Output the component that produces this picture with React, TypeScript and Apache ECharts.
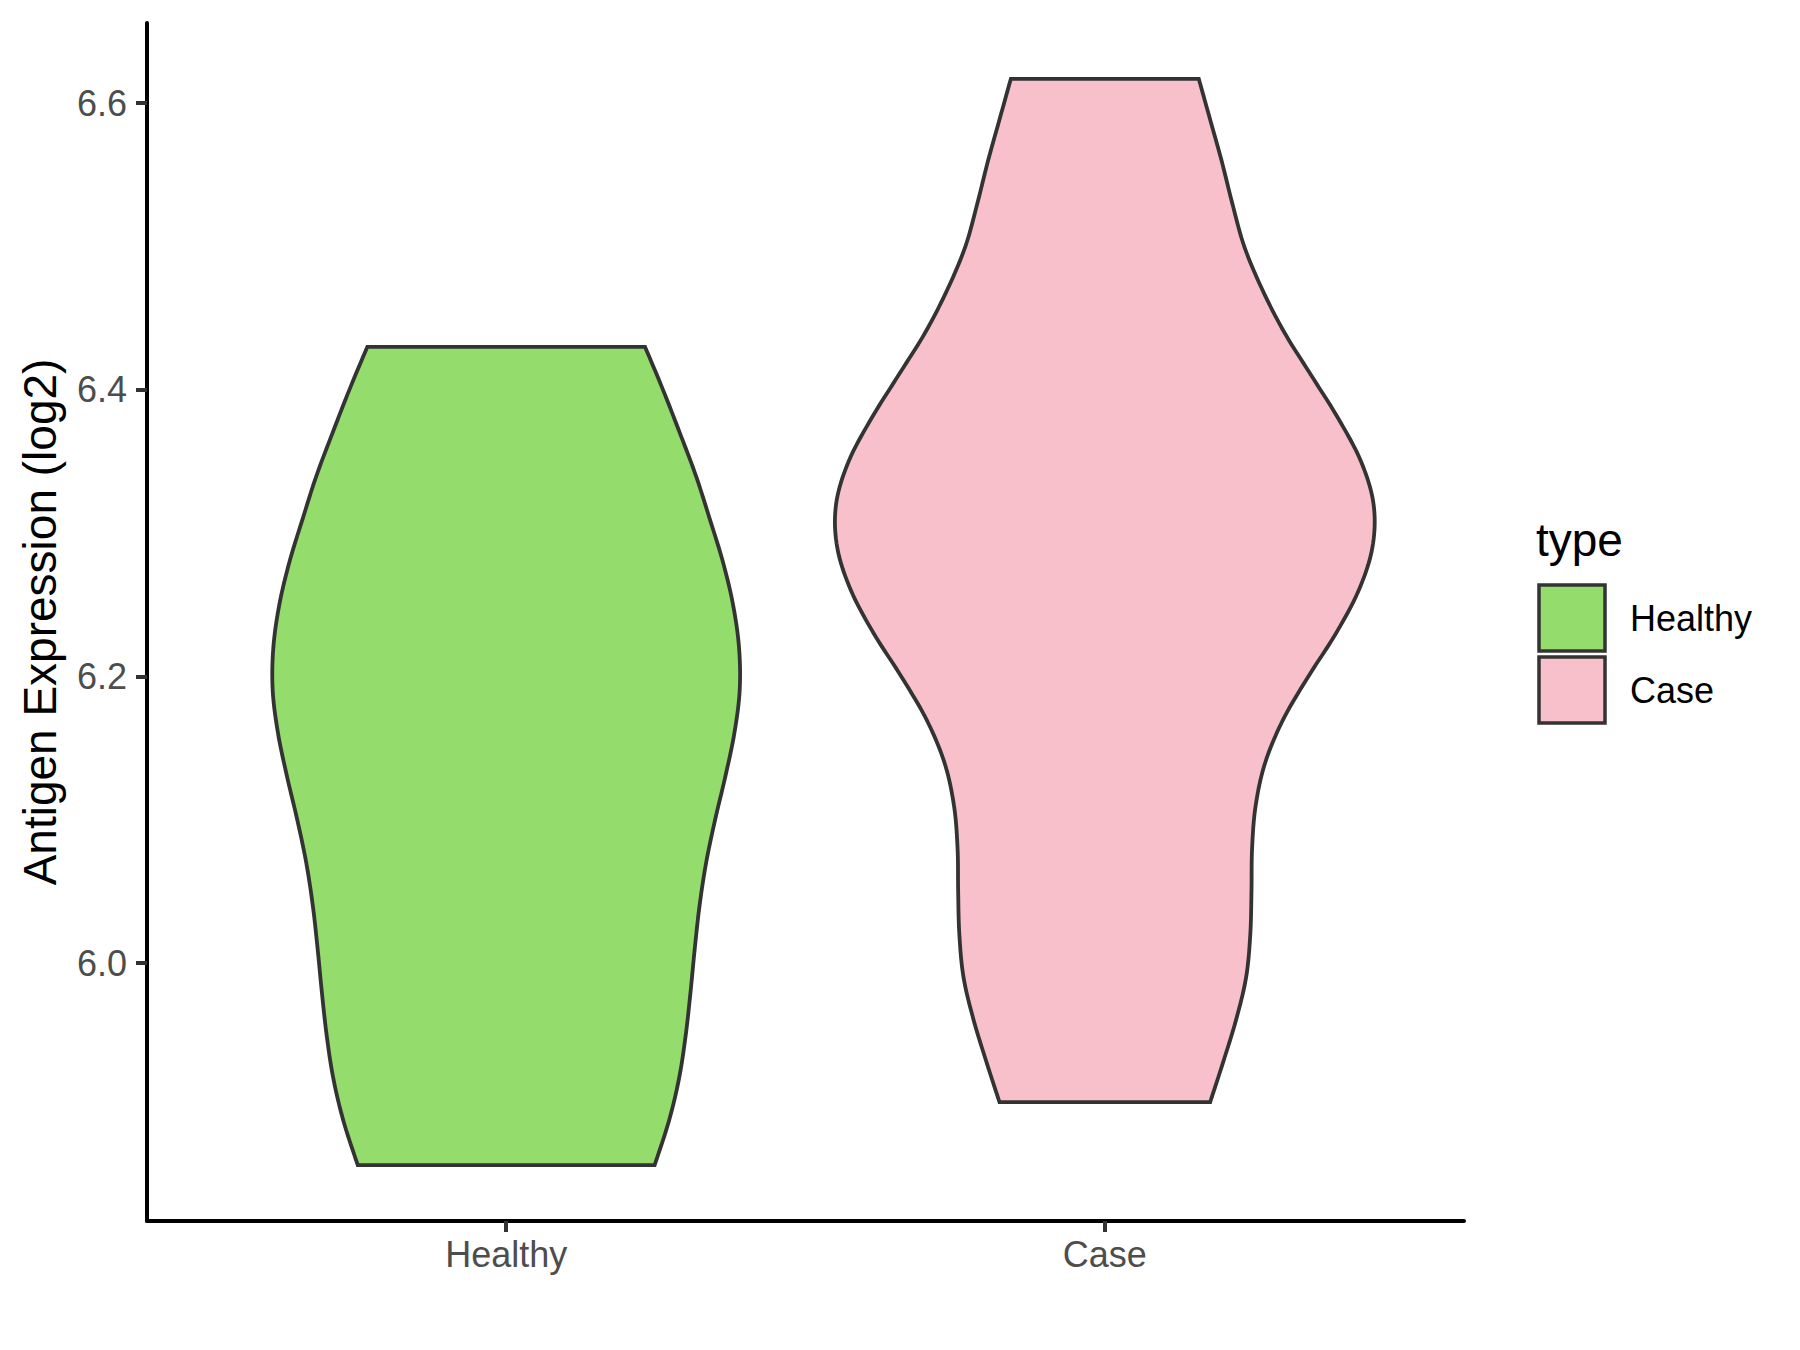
import React, { useEffect, useRef } from "react";
import * as echarts from "echarts";

// ---- data ----
const categories = ["Healthy", "Case"];
const legendTitle = "type";
const yAxisTitle = "Antigen Expression (log2)";
const yTickValues = [6.0, 6.2, 6.4, 6.6];
const yRange = [5.82, 6.656];
const xRange = [0.4, 2.6];

// violin outlines: y value and half width (in category units)
const healthyY = [6.43, 6.4, 6.37, 6.34, 6.31, 6.28, 6.25, 6.22, 6.19, 6.16, 6.13, 6.1, 6.07, 6.04, 6.01, 5.98, 5.95, 5.92, 5.89, 5.859];
const healthyHalfWidth = [0.232, 0.262, 0.29, 0.317, 0.34, 0.362, 0.379, 0.389, 0.39, 0.381, 0.366, 0.349, 0.334, 0.323, 0.315, 0.308, 0.3, 0.289, 0.272, 0.248];
const caseY = [6.617, 6.59, 6.56, 6.53, 6.5, 6.47, 6.44, 6.41, 6.38, 6.35, 6.32, 6.29, 6.26, 6.23, 6.2, 6.17, 6.14, 6.11, 6.08, 6.05, 6.02, 5.99, 5.96, 5.93, 5.903];
const caseHalfWidth = [0.157, 0.175, 0.195, 0.213, 0.233, 0.263, 0.3, 0.345, 0.39, 0.428, 0.449, 0.447, 0.424, 0.386, 0.34, 0.298, 0.268, 0.252, 0.246, 0.245, 0.243, 0.236, 0.219, 0.197, 0.176];

const fillColors = ["#94DC6B", "#F8C0CB"];
const outlines = [
  { y: healthyY, hw: healthyHalfWidth },
  { y: caseY, hw: caseHalfWidth },
];

function catmullRom(pts: number[][], steps: number): number[][] {
  const out: number[][] = [];
  const n = pts.length;
  for (let i = 0; i < n - 1; i++) {
    const p0 = pts[Math.max(i - 1, 0)];
    const p1 = pts[i];
    const p2 = pts[i + 1];
    const p3 = pts[Math.min(i + 2, n - 1)];
    for (let s = 0; s < steps; s++) {
      const t = s / steps;
      const t2 = t * t;
      const t3 = t2 * t;
      const f = (a: number, b: number, c: number, d: number) =>
        0.5 * (2 * b + (-a + c) * t + (2 * a - 5 * b + 4 * c - d) * t2 + (-a + 3 * b - 3 * c + d) * t3);
      out.push([f(p0[0], p1[0], p2[0], p3[0]), f(p0[1], p1[1], p2[1], p3[1])]);
    }
  }
  out.push(pts[n - 1]);
  return out;
}

export default function App() {
  const ref = useRef<HTMLDivElement>(null);
  useEffect(() => {
    if (!ref.current) return;
    const chart = echarts.init(ref.current, undefined, { renderer: "svg" });
    const font = "Liberation Sans, Arial, sans-serif";

    const series: any[] = categories.map((name, gi) => ({
      type: "custom",
      name,
      coordinateSystem: "cartesian2d",
      data: [[gi + 1, outlines[gi].y[0]]],
      renderItem: (params: any, api: any) => {
        const o = outlines[gi];
        const cx = gi + 1;
        const left = o.y.map((y, i) => api.coord([cx - o.hw[i], y]));
        const dense = catmullRom(left, 10);
        const cpx = api.coord([cx, o.y[0]])[0];
        const right = dense.map((p) => [2 * cpx - p[0], p[1]]).reverse();
        return {
          type: "polygon",
          shape: { points: dense.concat(right) },
          style: {
            fill: fillColors[gi],
            stroke: "#333333",
            lineWidth: 3.8,
            lineJoin: "miter",
          },
        };
      },
    }));

    chart.setOption({
      animation: false,
      backgroundColor: "#FFFFFF",
      grid: { left: 147, right: 336, top: 23, bottom: 129 },
      xAxis: {
        type: "value",
        min: xRange[0],
        max: xRange[1],
        splitLine: { show: false },
        axisLine: { show: true, onZero: false, lineStyle: { color: "#000000", width: 4 } },
        axisTick: { show: true, customValues: [1, 2], length: 11, lineStyle: { color: "#333333", width: 4 } },
        axisLabel: {
          customValues: [1, 2],
          formatter: (v: number) => categories[Math.round(v) - 1] ?? "",
          fontSize: 36,
          fontFamily: font,
          color: "#4D4D4D",
          margin: 15,
        },
      },
      yAxis: {
        type: "value",
        min: yRange[0],
        max: yRange[1],
        name: yAxisTitle,
        nameLocation: "middle",
        nameRotate: 90,
        nameGap: 84,
        nameTextStyle: { fontSize: 46, fontFamily: font, color: "#000000" },
        splitLine: { show: false },
        axisLine: { show: true, onZero: false, lineStyle: { color: "#000000", width: 4 } },
        axisTick: { show: true, customValues: yTickValues, length: 11, lineStyle: { color: "#333333", width: 4 } },
        axisLabel: {
          customValues: yTickValues,
          formatter: (v: number) => v.toFixed(1),
          fontSize: 36,
          fontFamily: font,
          color: "#4D4D4D",
          margin: 20,
        },
      },
      series,
      graphic: [
        {
          type: "text",
          left: 1536,
          top: 517,
          style: { text: legendTitle, fontSize: 46, fontFamily: font, fill: "#000000" },
        },
        ...categories.flatMap((name, i) => [
          {
            type: "rect",
            shape: { x: 1539, y: 585 + i * 72, width: 66, height: 66 },
            style: { fill: fillColors[i], stroke: "#333333", lineWidth: 3.5 },
          },
          {
            type: "text",
            x: 1630,
            y: 618 + i * 72,
            style: {
              text: name,
              fontSize: 36,
              fontFamily: font,
              fill: "#000000",
              verticalAlign: "middle",
              align: "left",
            },
          },
        ]),
      ],
    });
    return () => chart.dispose();
  }, []);

  return (
    <div
      ref={ref}
      style={{ position: "fixed", left: 0, top: 0, width: 1800, height: 1350, background: "#fff" }}
    />
  );
}
